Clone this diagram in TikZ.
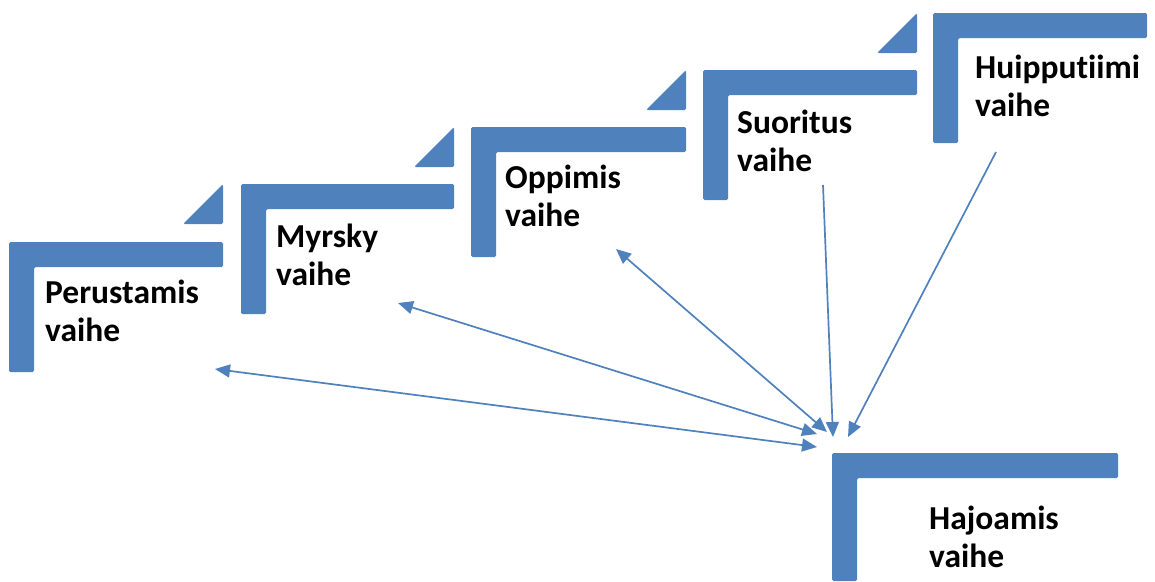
\documentclass[tikz,border=0pt]{standalone}
\usepackage{fontspec}
\setmainfont[Ligatures=NoCommon]{Carlito}
\usetikzlibrary{arrows.meta}

\definecolor{frameblue}{HTML}{4F81BD}

% half frame: x, y (top left), width, height
\newcommand{\halfframe}[4]{%
  \fill[frameblue, rounded corners=1.5pt] (#1,#2) -- ++(#3,0) -- ++(0,25) -- ++(25-#3,0) -- ++(0,#4-25) -- ++(-25,0) -- cycle;}
% corner triangle: x, y (top right)
\newcommand{\cornertri}[2]{%
  \fill[frameblue, rounded corners=1.5pt] (#1,#2) -- ++(0,40) -- ++(-40,0) -- cycle;}

\begin{document}
\begin{tikzpicture}[x=1pt, y=-1pt,
    phasetext/.style={font=\bfseries\fontsize{33.5}{38}\selectfont, align=left, inner sep=0pt, anchor=base west},
    link/.style={draw=frameblue, line width=1.7pt, -{Triangle[length=15pt,width=13pt]}},
    twoway/.style={link, {Triangle[length=15pt,width=13pt]}-{Triangle[length=15pt,width=13pt]}}]
            \useasboundingbox (0,0) rectangle (1155,581);

            % Frames
            \halfframe{9}{242}{214}{130}
            \halfframe{241}{184}{213}{130}
            \halfframe{471}{127}{215}{130}
            \halfframe{703}{70}{214}{130}
            \halfframe{933}{13}{214}{130}
            \halfframe{832}{453}{286}{128}
            \cornertri{223}{184}
            \cornertri{454}{127}
            \cornertri{686}{70}
            \cornertri{917}{13}

            % Nodes (anchored on the baseline of the second line)
            \node (perustamis) [phasetext] at (45,341) {Perustamis\\vaihe};
            \node (myrsky) [phasetext] at (276,285) {Myrsky\\vaihe};
            \node (oppimis) [phasetext] at (505,226) {Oppimis\\vaihe};
            \node (suoritus) [phasetext] at (737,171) {Suoritus\\vaihe};
            \node (huippu) [phasetext] at (975,116) {Huipputiimi\\vaihe};
            \node (hajoamis) [phasetext] at (929,567) {Hajoamis\\vaihe};

            % Arrow ends
            \coordinate (perEnd) at (215,369);
            \coordinate (myrEnd) at (398,303);
            \coordinate (oppEnd) at (616,249);
            \coordinate (suoEnd) at (823,185);
            \coordinate (huiEnd) at (996,152);
            \coordinate (hajPer) at (817,447);
            \coordinate (hajMyr) at (817,434);
            \coordinate (hajOpp) at (827,432);
            \coordinate (hajSuo) at (833,437);
            \coordinate (hajHui) at (848,437);

            % Arrows
            \draw[twoway] (perEnd) -- (hajPer);
            \draw[twoway] (myrEnd) -- (hajMyr);
            \draw[twoway] (oppEnd) -- (hajOpp);
            \draw[link] (suoEnd) -- (hajSuo);
            \draw[link] (huiEnd) -- (hajHui);
\end{tikzpicture}
\end{document}
